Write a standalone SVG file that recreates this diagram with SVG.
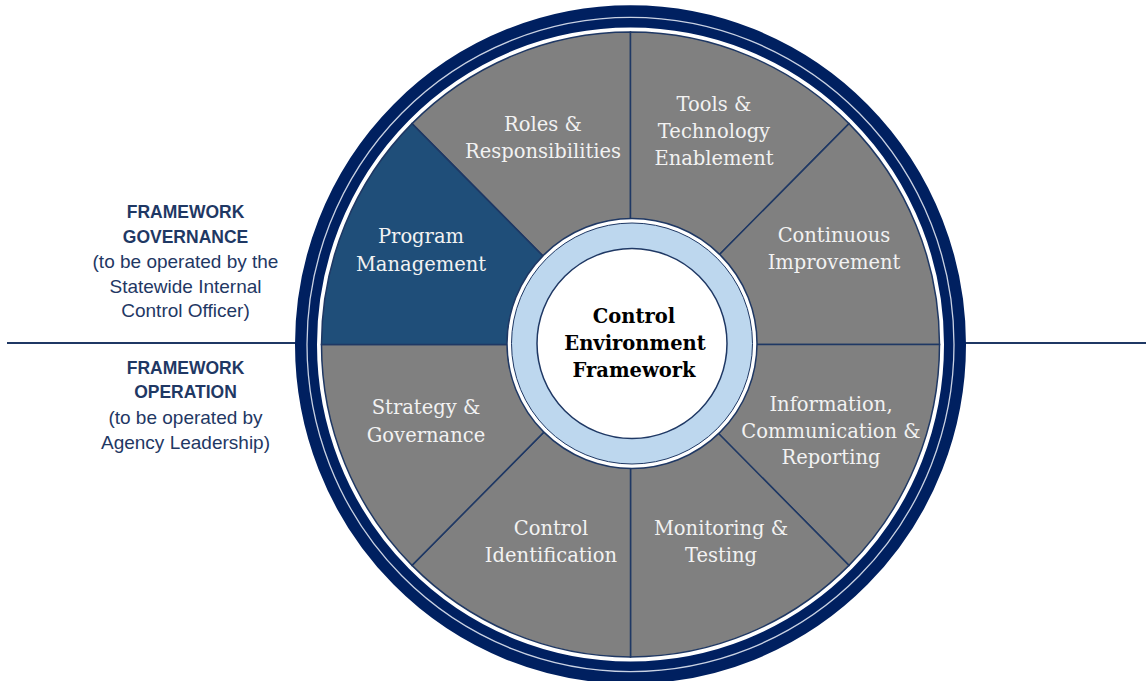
<svg xmlns="http://www.w3.org/2000/svg" width="1146" height="681" viewBox="0 0 1146 681">
<style>
.seg{fill:#808080;stroke:#1f3864;stroke-width:1.5}
.pm{fill:#1f4e79;stroke:#1f3864;stroke-width:1.5}
.lbl{font-family:"DejaVu Serif","Liberation Serif",serif;font-size:19.5px;fill:#f2f2f2;text-anchor:middle}
.ctr{font-family:"DejaVu Serif","Liberation Serif",serif;font-size:19.5px;font-weight:bold;fill:#000;text-anchor:middle}
.side{font-family:"Liberation Sans",Arial,sans-serif;fill:#1f3864;text-anchor:middle}
.hd{font-size:17.5px;font-weight:bold}
.sub{font-size:19px}
</style>
<rect width="1146" height="681" fill="#fff"/>
<g id="connectors">
<line x1="7" y1="343" x2="300" y2="343" stroke="#1f3864" stroke-width="2"/>
<line x1="960" y1="343" x2="1146" y2="343" stroke="#1f3864" stroke-width="2"/>
</g>
<g id="outer-ring" transform="translate(630.5,344.5) scale(1,1.011)">
<circle r="324.5" fill="#fff" stroke="#002060" stroke-width="22"/>
<circle r="323.5" fill="none" stroke="#c9d2e3" stroke-width="1.3"/>
</g>
<g id="roles">
<path class="seg" transform="translate(630.5,344.5) scale(1,1.011)" d="M0,0 L-218.5,-218.5 A309,309 0 0 1 0,-309 Z"/>
<text class="lbl" x="543" y="131">Roles &amp;</text>
<text class="lbl" x="543" y="158">Responsibilities</text>
</g>
<g id="tools">
<path class="seg" transform="translate(630.5,344.5) scale(1,1.011)" d="M0,0 L0,-309 A309,309 0 0 1 218.5,-218.5 Z"/>
<text class="lbl" x="714" y="111">Tools &amp;</text>
<text class="lbl" x="714" y="138">Technology</text>
<text class="lbl" x="714" y="165">Enablement</text>
</g>
<g id="continuous">
<path class="seg" transform="translate(630.5,344.5) scale(1,1.011)" d="M0,0 L218.5,-218.5 A309,309 0 0 1 309,0 Z"/>
<text class="lbl" x="834" y="242">Continuous</text>
<text class="lbl" x="834" y="269">Improvement</text>
</g>
<g id="information">
<path class="seg" transform="translate(630.5,344.5) scale(1,1.011)" d="M0,0 L309,0 A309,309 0 0 1 218.5,218.5 Z"/>
<text class="lbl" x="831" y="411">Information,</text>
<text class="lbl" x="831" y="437.5">Communication &amp;</text>
<text class="lbl" x="831" y="464">Reporting</text>
</g>
<g id="monitoring">
<path class="seg" transform="translate(630.5,344.5) scale(1,1.011)" d="M0,0 L218.5,218.5 A309,309 0 0 1 0,309 Z"/>
<text class="lbl" x="721" y="535">Monitoring &amp;</text>
<text class="lbl" x="721" y="562">Testing</text>
</g>
<g id="control-identification">
<path class="seg" transform="translate(630.5,344.5) scale(1,1.011)" d="M0,0 L0,309 A309,309 0 0 1 -218.5,218.5 Z"/>
<text class="lbl" x="551" y="535">Control</text>
<text class="lbl" x="551" y="562">Identification</text>
</g>
<g id="strategy">
<path class="seg" transform="translate(630.5,344.5) scale(1,1.011)" d="M0,0 L-218.5,218.5 A309,309 0 0 1 -309,0 Z"/>
<text class="lbl" x="426" y="414">Strategy &amp;</text>
<text class="lbl" x="426" y="441.5">Governance</text>
</g>
<g id="program-management">
<path class="pm" transform="translate(630.5,344.5) scale(1,1.011)" d="M0,0 L-309,0 A309,309 0 0 1 -218.5,-218.5 Z"/>
<text class="lbl" x="421" y="243">Program</text>
<text class="lbl" x="421" y="271">Management</text>
</g>
<g id="center">
<circle cx="632" cy="343.5" r="125" fill="#fff" stroke="#1f3864" stroke-width="1.5"/>
<circle cx="632" cy="343.5" r="120.5" fill="#bdd7ee" stroke="#1f3864" stroke-width="1"/>
<circle cx="632" cy="343.5" r="95" fill="#fff" stroke="#1f3864" stroke-width="1.5"/>
<text class="ctr" x="634" y="323">Control</text>
<text class="ctr" x="635" y="350">Environment</text>
<text class="ctr" x="634" y="377">Framework</text>
</g>
<g id="framework-governance" class="side">
<text class="hd" x="185.5" y="218">FRAMEWORK</text>
<text class="hd" x="185.5" y="243">GOVERNANCE</text>
<text class="sub" x="185.5" y="268">(to be operated by the</text>
<text class="sub" x="185.5" y="293">Statewide Internal</text>
<text class="sub" x="185.5" y="317">Control Officer)</text>
</g>
<g id="framework-operation" class="side">
<text class="hd" x="185.5" y="374">FRAMEWORK</text>
<text class="hd" x="185.5" y="398">OPERATION</text>
<text class="sub" x="185.5" y="424">(to be operated by</text>
<text class="sub" x="185.5" y="449">Agency Leadership)</text>
</g>
</svg>
